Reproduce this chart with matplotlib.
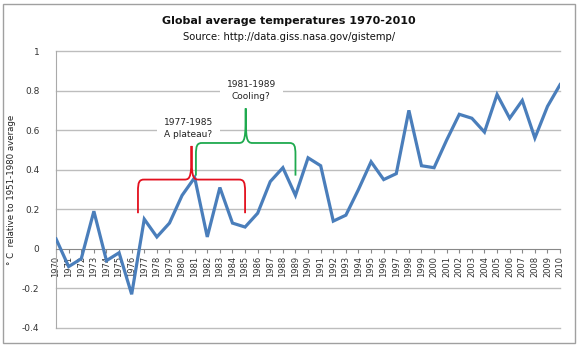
# Global average temperature anomalies 1970-2010 (GISS), with two brace annotations

import matplotlib.pyplot as plt
from matplotlib.path import Path
from matplotlib.patches import PathPatch, Rectangle

years = list(range(1970, 2011))
anomaly = [0.05, -0.09, -0.05, 0.19, -0.06, -0.02, -0.23, 0.15, 0.06, 0.13,
           0.27, 0.36, 0.06, 0.31, 0.13, 0.11, 0.18, 0.34, 0.41, 0.27,
           0.46, 0.42, 0.14, 0.17, 0.30, 0.44, 0.35, 0.38, 0.70, 0.42,
           0.41, 0.55, 0.68, 0.66, 0.59, 0.78, 0.66, 0.75, 0.56, 0.72,
           0.83]

# braces: (start, end, level, bottom left, bottom right, tip, colour)
braces = [
    (1976.5, 1985, 0.35, 0.18, 0.18, 0.52, '#e3101e'),
    (1981.1, 1989, 0.535, 0.37, 0.37, 0.71, '#1faa4f'),
]
brace_labels = [
    (1980.5, 0.61, '1977-1985\nA plateau?'),
    (1985.5, 0.80, '1981-1989\nCooling?'),
]


def brace_path(x0, x1, lev, b0, b1, tip):
    xm = (x0 + x1) / 2
    rx, ry = 0.5, 0.06
    w = 0.55
    verts = [
        (x0, b0), (x0, lev - ry),
        (x0, lev - ry * 0.2), (x0 + rx * 0.2, lev), (x0 + rx, lev),
        (xm - w, lev),
        (xm - 0.05, lev), (xm, lev + 0.02), (xm, tip),
        (xm, lev + 0.02), (xm + 0.05, lev), (xm + w, lev),
        (x1 - rx, lev),
        (x1 - rx * 0.2, lev), (x1, lev - ry * 0.2), (x1, lev - ry),
        (x1, b1),
    ]
    codes = [Path.MOVETO, Path.LINETO,
             Path.CURVE4, Path.CURVE4, Path.CURVE4,
             Path.LINETO,
             Path.CURVE4, Path.CURVE4, Path.CURVE4,
             Path.CURVE4, Path.CURVE4, Path.CURVE4,
             Path.LINETO,
             Path.CURVE4, Path.CURVE4, Path.CURVE4,
             Path.LINETO]
    return Path(verts, codes)


fig = plt.figure(figsize=(5.78, 3.47), dpi=100)
ax = fig.add_axes([0.097, 0.055, 0.872, 0.798])

ax.plot(years, anomaly, color='#4a7ebb', lw=2.3, zorder=3, solid_joinstyle='miter')

for x0, x1, lev, b0, b1, tip, col in braces:
    ax.add_patch(PathPatch(brace_path(x0, x1, lev, b0, b1, tip), fill=False,
                           edgecolor=col, lw=1.3, zorder=4))

# white box behind the labels only breaks the gridlines, braces stay on top
for x, y, txt in brace_labels:
    ax.text(x, y, txt, ha='center', va='center', fontsize=6.5, color='#222222',
            linespacing=1.45, zorder=2,
            bbox=dict(facecolor='white', edgecolor='none', pad=5))

ax.set_xlim(1970, 2010)
ax.set_ylim(-0.4, 1.0)
ax.set_yticks([-0.4, -0.2, 0, 0.2, 0.4, 0.6, 0.8, 1.0])
ax.set_yticklabels(['-0.4', '-0.2', '0', '0.2', '0.4', '0.6', '0.8', '1'])
ax.set_xticks(years)
ax.set_xticklabels([str(y) for y in years])
ax.tick_params(axis='y', length=0, labelsize=6.5, colors='#333333', pad=12)
ax.tick_params(axis='x', length=3, direction='out', color='#888888', pad=2,
               labelrotation=90, labelsize=6, labelcolor='#333333')

for y in [-0.4, -0.2, 0.2, 0.4, 0.6, 0.8, 1.0]:
    ax.axhline(y, color='#bdbdbd', lw=1, zorder=1, clip_on=False)

ax.spines['bottom'].set_position(('data', 0))
ax.spines['bottom'].set_color('#888888')
ax.spines['left'].set_color('#aaaaaa')
ax.spines['top'].set_visible(False)
ax.spines['right'].set_visible(False)

ax.set_ylabel('° C  relative to 1951-1980 average', fontsize=6.2, color='#222222', labelpad=4)

fig.text(0.5, 0.94, 'Global average temperatures 1970-2010', ha='center', va='center',
         fontsize=8, fontweight='bold', color='#111111')
fig.text(0.5, 0.893, 'Source: http://data.giss.nasa.gov/gistemp/', ha='center', va='center',
         fontsize=7.2, color='#111111')

fig.patches.append(Rectangle((0.006, 0.012), 0.988, 0.976, transform=fig.transFigure,
                             fill=False, edgecolor='#a0a0a0', lw=1))

fig.savefig('out.png', dpi=100)
